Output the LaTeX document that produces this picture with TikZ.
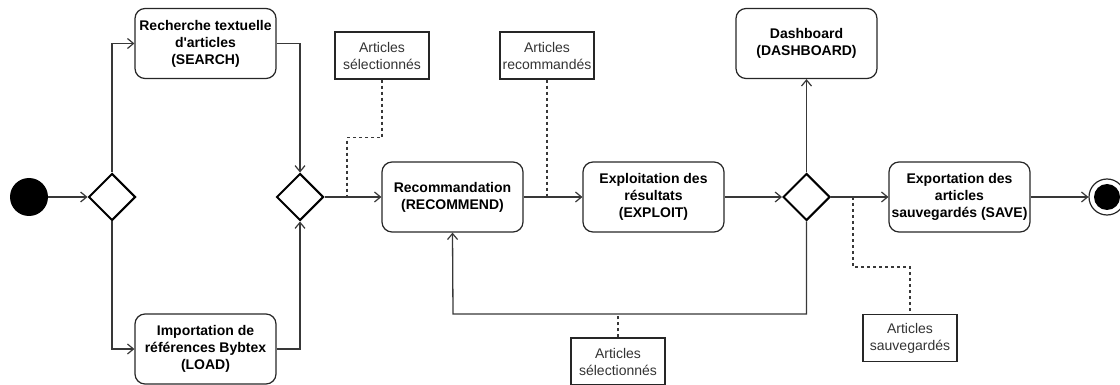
\documentclass[tikz,border=0pt]{standalone}
\usepackage{fontspec}
\setmainfont{Liberation Sans}
\usetikzlibrary{arrows.meta,shapes.geometric}
\begin{document}
\begin{tikzpicture}[x=1pt,y=-1pt,
  act/.style={draw=black!85,line width=1.2pt,rounded corners=10pt,minimum width=141pt,minimum height=70pt,
    align=center,font=\fontsize{14}{17}\selectfont\bfseries,inner sep=1pt},
  note/.style={draw=black!85,line width=1.2pt,minimum width=94pt,minimum height=47pt,align=center,
    font=\fontsize{14}{17}\selectfont,text=black!80,inner sep=1pt},
  gate/.style={draw=black,line width=2pt,shape=diamond,minimum width=47pt,minimum height=47pt,inner sep=0pt},
  flow/.style={draw=black!78,line width=1.3pt,-{Straight Barb[length=6pt,width=10pt,line width=1.2pt]}},
  dnote/.style={draw=black!78,line width=1.2pt,dash pattern=on 3pt off 3pt}]
\useasboundingbox (0,0) rectangle (1120,385);
% nodes
\node[circle,fill=black,minimum size=38pt,inner sep=0pt] (start) at (29,197) {};
\node[gate] (d1) at (112,197) {};
\node[gate] (d2) at (300,197) {};
\node[gate] (d3) at (806.5,197) {};
\node[act] (search) at (205.5,43.5) {Recherche textuelle\\d\textquotesingle articles\\(SEARCH)};
\node[act] (load) at (205.5,349) {Importation de\\références Bybtex\\(LOAD)};
\node[act] (rec) at (452.5,197) {Recommandation\\(RECOMMEND)};
\node[act] (exp) at (653.5,197) {Exploitation des\\résultats\\(EXPLOIT)};
\node[act] (dash) at (806.5,43.5) {Dashboard\\(DASHBOARD)};
\node[act] (save) at (959.5,197) {Exportation des\\articles\\sauvegardés (SAVE)};
\node[circle,draw=black!85,line width=1.2pt,minimum size=36pt,inner sep=0pt] (end) at (1107,197) {};
\node[circle,fill=black,minimum size=26pt,inner sep=0pt] (endin) at (end.center) {};
\node[note] (n1) at (382,55.5) {Articles\\sélectionnés};
\node[note] (n2) at (547,55.5) {Articles\\recommandés};
\node[note] (n3) at (618,361.5) {Articles\\sélectionnés};
\node[note] (n4) at (910,338) {Articles\\sauvegardés};
\coordinate (j1) at (347,197);
\coordinate (j2) at (547,197);
\coordinate (j3) at (618,314);
\coordinate (j4) at (853,197);
\coordinate (fb) at (453,314);
% flows
\draw[flow] (start) -- (d1);
\draw[flow] (d1.north) |- (search.west);
\draw[flow] (d1.south) |- (load.west);
\draw[flow] (search.east) -| (d2.north);
\draw[flow] (load.east) -| (d2.south);
\draw[flow] (d2) -- (rec);
\draw[flow] (rec) -- (exp);
\draw[flow] (exp) -- (d3);
\draw[flow] (d3) -- (dash.south);
\draw[flow] (d3) -- (save);
\draw[flow] (save) -- (end);
\draw[flow] (d3.south) |- (fb) -- (rec.south);
% dashed notes
\draw[dnote] (n1.south) -- ++(0,58) -| (j1);
\draw[dnote] (n2.south) -- (j2);
\draw[dnote] (n3.north) -- (j3);
\draw[dnote] (j4) -- ++(0,70) -| (n4.north);
\end{tikzpicture}
\end{document}
